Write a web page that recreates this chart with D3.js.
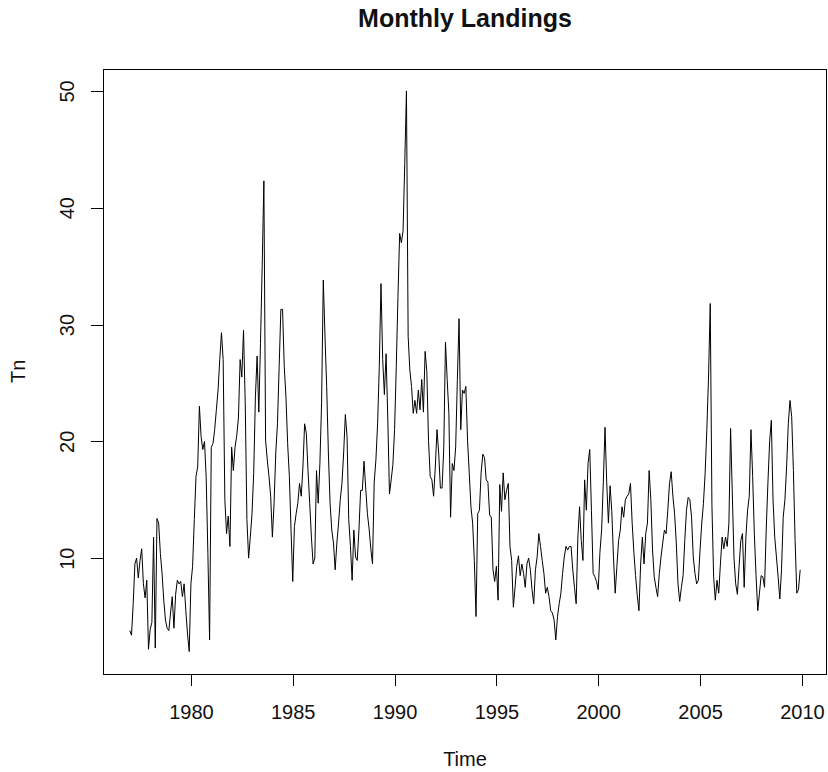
<!DOCTYPE html>
<html>
<head>
<meta charset="UTF-8">
<title>Monthly Landings</title>
<style>
  body { margin: 0; background: #fff; }
  svg { display: block; background: #fff; }
  text { font-family: "Liberation Sans", Arial, sans-serif; fill: #111; }
  .axis text { font-size: 20px; }
  .axis line, .axis path { stroke: #000; shape-rendering: crispEdges; }
  .frame { fill: none; stroke: #000; shape-rendering: crispEdges; }
  .series { fill: none; stroke: #000; stroke-width: 1px; }
</style>
<script src="https://cdn.jsdelivr.net/npm/d3@7/dist/d3.min.js"></script>
</head>
<body>
<div id="chart"></div>
<script>
// monthly values, Jan..Dec
var startYear = 1977;
var y1977 = [3.8, 3.4, 6.1, 9.5, 10.0, 8.3, 9.8, 10.8, 7.8, 6.6, 8.1, 2.2];
var y1978 = [3.9, 4.5, 11.8, 2.3, 13.4, 13.0, 10.4, 8.7, 6.4, 4.7, 4.0, 3.8];
var y1979 = [5.3, 6.7, 4.0, 6.9, 8.1, 7.8, 8.0, 6.7, 7.8, 5.5, 3.5, 2.0];
var y1980 = [7.8, 9.3, 13.3, 17.0, 17.8, 23.0, 20.4, 19.3, 20.0, 16.9, 10.4, 3.0];
var y1981 = [19.5, 19.8, 21.0, 22.7, 24.4, 27.0, 29.3, 27.0, 15.0, 12.1, 13.6, 11.0];
var y1982 = [19.5, 17.5, 19.5, 20.5, 22.0, 27.0, 25.5, 29.5, 23.3, 13.3, 10.0, 11.8];
var y1983 = [13.8, 17.3, 23.8, 27.3, 22.5, 28.4, 35.0, 42.3, 20.1, 18.4, 17.0, 15.3];
var y1984 = [11.8, 14.7, 19.0, 21.5, 26.4, 31.3, 31.3, 26.4, 23.8, 19.8, 17.0, 12.4];
var y1985 = [8.0, 12.7, 13.8, 14.7, 16.4, 15.3, 17.8, 21.5, 20.7, 17.5, 14.7, 11.8];
var y1986 = [9.5, 10.0, 17.5, 14.7, 18.1, 23.3, 33.8, 29.0, 24.7, 19.0, 14.7, 12.4];
var y1987 = [11.3, 9.0, 11.3, 13.0, 15.0, 16.4, 19.0, 22.3, 20.4, 13.3, 11.0, 8.1];
var y1988 = [12.4, 10.1, 9.8, 12.4, 15.8, 15.8, 18.3, 16.0, 13.8, 12.5, 10.8, 9.5];
var y1989 = [16.5, 18.4, 21.5, 26.4, 33.5, 27.0, 24.0, 27.5, 22.0, 15.5, 16.7, 18.0];
var y1990 = [21.0, 26.4, 32.4, 37.8, 37.0, 38.0, 43.8, 50.0, 29.0, 26.1, 24.7, 22.4];
var y1991 = [23.5, 22.4, 24.4, 22.7, 25.3, 22.5, 27.7, 26.0, 20.1, 17.0, 16.7, 15.3];
var y1992 = [17.8, 21.0, 19.0, 16.0, 16.0, 19.5, 28.5, 25.3, 22.4, 13.5, 18.1, 17.5];
var y1993 = [19.5, 25.3, 30.5, 21.0, 24.4, 24.1, 24.7, 20.1, 17.3, 14.4, 13.0, 9.8];
var y1994 = [5.0, 13.8, 14.1, 17.3, 18.9, 18.6, 16.7, 16.5, 13.7, 13.5, 9.0, 8.0];
var y1995 = [9.3, 6.4, 16.3, 14.0, 17.3, 15.0, 15.8, 16.4, 11.0, 9.8, 5.8, 7.5];
var y1996 = [9.3, 10.2, 8.5, 9.5, 8.7, 7.5, 9.5, 10.0, 9.0, 7.3, 6.1, 9.0];
var y1997 = [10.1, 12.1, 11.0, 9.8, 8.7, 7.0, 7.5, 6.7, 5.5, 5.3, 4.7, 3.0];
var y1998 = [5.0, 6.1, 7.0, 8.7, 10.1, 11.0, 10.7, 11.0, 11.0, 9.0, 7.5, 6.1];
var y1999 = [11.8, 14.4, 11.5, 9.8, 16.7, 14.1, 18.1, 19.3, 14.1, 8.7, 8.4, 8.0];
var y2000 = [7.3, 10.5, 12.4, 16.5, 21.2, 16.5, 13.0, 16.2, 14.0, 10.0, 7.0, 9.3];
var y2001 = [11.5, 12.4, 14.4, 13.5, 15.0, 15.3, 15.5, 16.4, 13.0, 10.5, 8.5, 6.8];
var y2002 = [5.5, 9.5, 11.8, 9.5, 12.1, 13.0, 17.5, 15.0, 10.7, 8.4, 7.5, 6.7];
var y2003 = [8.7, 10.1, 11.3, 12.4, 12.1, 14.1, 16.4, 17.4, 15.3, 13.8, 11.3, 7.8];
var y2004 = [6.3, 7.5, 8.5, 11.5, 14.1, 15.2, 15.0, 13.5, 10.1, 8.7, 7.8, 8.1];
var y2005 = [10.7, 13.0, 14.7, 17.3, 21.0, 25.5, 31.8, 14.5, 8.4, 6.4, 8.1, 7.0];
var y2006 = [9.5, 11.8, 10.8, 11.8, 11.0, 13.0, 21.1, 15.5, 10.0, 7.8, 6.9, 9.3];
var y2007 = [11.5, 12.1, 7.5, 11.8, 14.1, 15.3, 21.0, 17.0, 12.0, 8.5, 5.5, 7.0];
var y2008 = [8.5, 8.4, 7.5, 12.5, 16.5, 20.0, 21.8, 15.0, 11.8, 10.1, 8.4, 6.5];
var y2009 = [9.0, 13.5, 15.0, 17.8, 21.5, 23.5, 22.1, 17.5, 11.5, 7.0, 7.3, 9.0];

var xTicks = [1980, 1985, 1990, 1995, 2000, 2005, 2010];
var yTicks = [10, 20, 30, 40, 50];

var landings = [].concat(y1977, y1978, y1979, y1980, y1981, y1982, y1983, y1984,
  y1985, y1986, y1987, y1988, y1989, y1990, y1991, y1992, y1993, y1994, y1995,
  y1996, y1997, y1998, y1999, y2000, y2001, y2002, y2003, y2004, y2005, y2006,
  y2007, y2008, y2009);

var data = landings.map(function(v, i) { return { t: startYear + i / 12, v: v }; });

var width = 828, height = 772;
var plotLeft = 103, plotRight = 827, plotTop = 68.5, plotBottom = 674;

// pad the ranges by 4% each side, like the original plot
function padded(ext) {
  var p = (ext[1] - ext[0]) * 0.04;
  return [ext[0] - p, ext[1] + p];
}

var tExt = d3.extent(data, function(d) { return d.t; });
var vExt = d3.extent(data, function(d) { return d.v; });

var xScale = d3.scaleLinear().domain(padded(tExt)).range([plotLeft, plotRight]);
var yScale = d3.scaleLinear().domain(padded(vExt)).range([plotBottom, plotTop]);

var svg = d3.select("#chart")
  .append("svg")
  .attr("width", width)
  .attr("height", height);

// series
var line = d3.line()
  .x(function(d) { return xScale(d.t); })
  .y(function(d) { return yScale(d.v); });

svg.append("path")
  .datum(data)
  .attr("class", "series")
  .attr("d", line);

// axes
var xAxis = d3.axisBottom(xScale)
  .tickValues(xTicks)
  .tickFormat(d3.format("d"))
  .tickSize(12)
  .tickSizeOuter(0);

var xAxisG = svg.append("g")
  .attr("class", "axis")
  .attr("transform", "translate(0," + plotBottom + ")")
  .call(xAxis);
xAxisG.select(".domain").remove();
xAxisG.selectAll(".tick text")
  .attr("y", 38)
  .attr("dy", "0.35em");

var yAxis = d3.axisLeft(yScale)
  .tickValues(yTicks)
  .tickSize(12)
  .tickSizeOuter(0);

var yAxisG = svg.append("g")
  .attr("class", "axis")
  .attr("transform", "translate(" + plotLeft + ",0)")
  .call(yAxis);
yAxisG.select(".domain").remove();
yAxisG.selectAll(".tick text")
  .attr("transform", "rotate(-90)")
  .attr("x", 0)
  .attr("y", -36)
  .attr("dy", "0.35em")
  .attr("text-anchor", "middle");

// box round the plot
svg.append("rect")
  .attr("class", "frame")
  .attr("x", plotLeft + 0.5)
  .attr("y", Math.round(plotTop) + 0.5)
  .attr("width", plotRight - plotLeft - 1)
  .attr("height", Math.round(plotBottom) - Math.round(plotTop));

// titles
svg.append("text")
  .attr("x", (plotLeft + plotRight) / 2)
  .attr("y", 27)
  .attr("text-anchor", "middle")
  .style("font-size", "25px")
  .style("font-weight", "bold")
  .text("Monthly Landings");

svg.append("text")
  .attr("x", (plotLeft + plotRight) / 2)
  .attr("y", 759)
  .attr("dy", "0.35em")
  .attr("text-anchor", "middle")
  .style("font-size", "20px")
  .text("Time");

svg.append("text")
  .attr("transform", "translate(18," + (plotTop + plotBottom) / 2 + ") rotate(-90)")
  .attr("dy", "0.35em")
  .attr("text-anchor", "middle")
  .style("font-size", "20px")
  .text("Tn");
</script>
</body>
</html>
